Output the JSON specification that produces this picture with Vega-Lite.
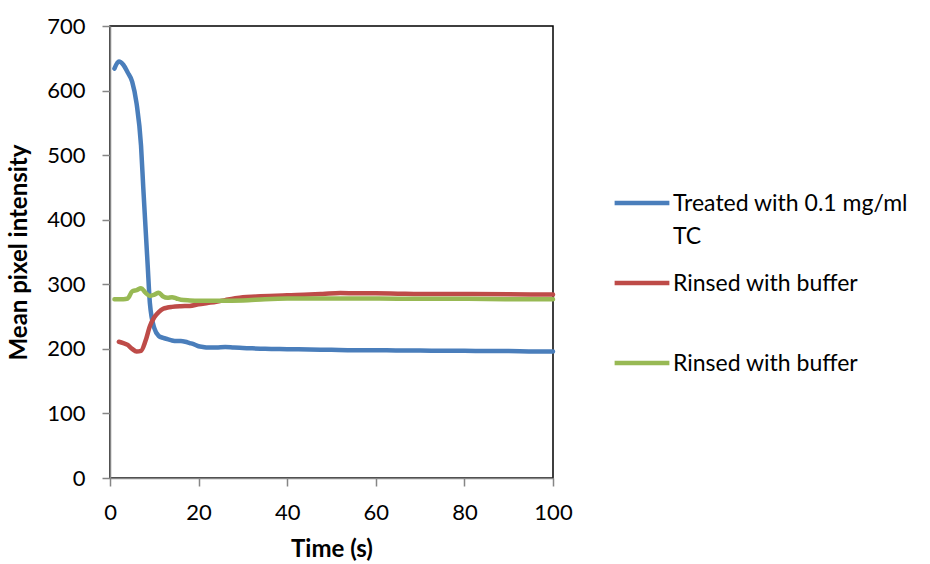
{
  "$schema": "https://vega.github.io/schema/vega-lite/v6.json",
  "width": 443,
  "height": 452,
  "autosize": {"type": "none"},
  "padding": {"left": 110, "top": 26, "right": 377, "bottom": 86},
  "background": "white",
  "config": {
    "view": {"stroke": "#000", "strokeWidth": 1.5},
    "font": "Lato",
    "axis": {
      "grid": false,
      "domainColor": "#868686",
      "domainWidth": 1.5,
      "tickColor": "#868686",
      "tickWidth": 1.5,
      "tickSize": 8,
      "labelFont": "Lato",
      "labelFontSize": 22,
      "labelColor": "#000",
      "titleFont": "Lato",
      "titleFontSize": 24,
      "titleFontWeight": "bold",
      "titleColor": "#000"
    }
  },
  "datasets": {
    "d": [
      {"t": 1, "v": 634, "s": "s1"}, {"t": 2, "v": 645, "s": "s1"}, {"t": 3, "v": 640, "s": "s1"}, {"t": 4, "v": 628, "s": "s1"}, {"t": 5, "v": 614, "s": "s1"}, {"t": 6, "v": 580, "s": "s1"}, {"t": 7, "v": 515, "s": "s1"}, {"t": 7.5, "v": 451, "s": "s1"}, {"t": 8, "v": 390, "s": "s1"}, {"t": 8.5, "v": 330, "s": "s1"}, {"t": 9, "v": 271, "s": "s1"}, {"t": 10, "v": 232, "s": "s1"}, {"t": 11, "v": 220, "s": "s1"}, {"t": 12, "v": 217, "s": "s1"}, {"t": 13, "v": 215, "s": "s1"}, {"t": 14, "v": 213, "s": "s1"}, {"t": 15, "v": 212, "s": "s1"}, {"t": 16, "v": 212, "s": "s1"}, {"t": 17, "v": 211, "s": "s1"}, {"t": 18, "v": 209, "s": "s1"}, {"t": 19, "v": 207, "s": "s1"}, {"t": 20, "v": 204, "s": "s1"}, {"t": 21, "v": 203, "s": "s1"}, {"t": 22, "v": 202, "s": "s1"}, {"t": 24, "v": 202, "s": "s1"}, {"t": 26, "v": 203, "s": "s1"}, {"t": 28, "v": 202, "s": "s1"}, {"t": 30, "v": 201.5, "s": "s1"}, {"t": 35, "v": 200, "s": "s1"}, {"t": 40, "v": 199.5, "s": "s1"}, {"t": 45, "v": 199, "s": "s1"}, {"t": 50, "v": 198.5, "s": "s1"}, {"t": 55, "v": 198, "s": "s1"}, {"t": 60, "v": 198, "s": "s1"}, {"t": 65, "v": 197.5, "s": "s1"}, {"t": 70, "v": 197.5, "s": "s1"}, {"t": 75, "v": 197, "s": "s1"}, {"t": 80, "v": 197, "s": "s1"}, {"t": 85, "v": 196.5, "s": "s1"}, {"t": 90, "v": 196.5, "s": "s1"}, {"t": 95, "v": 196, "s": "s1"}, {"t": 100, "v": 196, "s": "s1"},
      {"t": 2, "v": 211, "s": "s2"}, {"t": 3, "v": 209, "s": "s2"}, {"t": 4, "v": 206, "s": "s2"}, {"t": 5, "v": 200, "s": "s2"}, {"t": 6, "v": 196, "s": "s2"}, {"t": 7, "v": 197, "s": "s2"}, {"t": 8, "v": 212, "s": "s2"}, {"t": 9, "v": 235, "s": "s2"}, {"t": 10, "v": 249, "s": "s2"}, {"t": 11, "v": 257, "s": "s2"}, {"t": 12, "v": 262, "s": "s2"}, {"t": 13, "v": 264, "s": "s2"}, {"t": 14, "v": 265, "s": "s2"}, {"t": 16, "v": 266, "s": "s2"}, {"t": 18, "v": 266.5, "s": "s2"}, {"t": 20, "v": 269, "s": "s2"}, {"t": 22, "v": 271, "s": "s2"}, {"t": 24, "v": 273, "s": "s2"}, {"t": 26, "v": 275.5, "s": "s2"}, {"t": 28, "v": 278, "s": "s2"}, {"t": 30, "v": 280, "s": "s2"}, {"t": 33, "v": 281, "s": "s2"}, {"t": 36, "v": 282, "s": "s2"}, {"t": 40, "v": 283, "s": "s2"}, {"t": 45, "v": 284, "s": "s2"}, {"t": 48, "v": 285, "s": "s2"}, {"t": 52, "v": 286.5, "s": "s2"}, {"t": 56, "v": 286, "s": "s2"}, {"t": 60, "v": 286, "s": "s2"}, {"t": 65, "v": 285.5, "s": "s2"}, {"t": 70, "v": 285, "s": "s2"}, {"t": 80, "v": 285, "s": "s2"}, {"t": 90, "v": 284.5, "s": "s2"}, {"t": 100, "v": 284, "s": "s2"},
      {"t": 1, "v": 277, "s": "s3"}, {"t": 2, "v": 277, "s": "s3"}, {"t": 3, "v": 277, "s": "s3"}, {"t": 4, "v": 278, "s": "s3"}, {"t": 5, "v": 289, "s": "s3"}, {"t": 6, "v": 291, "s": "s3"}, {"t": 7, "v": 294, "s": "s3"}, {"t": 8, "v": 287, "s": "s3"}, {"t": 9, "v": 282, "s": "s3"}, {"t": 10, "v": 284, "s": "s3"}, {"t": 11, "v": 287, "s": "s3"}, {"t": 12, "v": 281, "s": "s3"}, {"t": 13, "v": 279, "s": "s3"}, {"t": 14, "v": 280, "s": "s3"}, {"t": 15, "v": 278, "s": "s3"}, {"t": 16, "v": 276, "s": "s3"}, {"t": 18, "v": 275, "s": "s3"}, {"t": 20, "v": 274.5, "s": "s3"}, {"t": 25, "v": 274.5, "s": "s3"}, {"t": 30, "v": 275, "s": "s3"}, {"t": 35, "v": 277, "s": "s3"}, {"t": 40, "v": 278, "s": "s3"}, {"t": 50, "v": 278, "s": "s3"}, {"t": 60, "v": 278, "s": "s3"}, {"t": 70, "v": 277.5, "s": "s3"}, {"t": 80, "v": 277.5, "s": "s3"}, {"t": 90, "v": 277, "s": "s3"}, {"t": 100, "v": 277, "s": "s3"}
    ]
  },
  "data": {"name": "d"},
  "mark": {"type": "line", "strokeWidth": 4.5, "strokeCap": "round", "strokeJoin": "round", "interpolate": "monotone"},
  "encoding": {
    "x": {
      "field": "t", "type": "quantitative",
      "scale": {"domain": [0, 100], "nice": false},
      "axis": {"values": [0, 20, 40, 60, 80, 100], "title": "Time (s)", "labelPadding": 16, "titlePadding": 14, "labelFlush": false}
    },
    "y": {
      "field": "v", "type": "quantitative",
      "scale": {"domain": [0, 700], "nice": false},
      "axis": {"values": [0, 100, 200, 300, 400, 500, 600, 700], "title": "Mean pixel intensity", "titleFontSize": 24, "labelPadding": 17, "titlePadding": 15}
    },
    "color": {
      "field": "s", "type": "nominal",
      "scale": {"domain": ["s1", "s2", "s3"], "range": ["#4A7EBB", "#BE4B48", "#98B954"]},
      "legend": {
        "title": null,
        "orient": "none",
        "legendX": 502,
        "legendY": 147,
        "symbolType": "stroke",
        "symbolSize": 3000,
        "symbolStrokeWidth": 4.5,
        "labelFont": "Lato",
        "labelFontSize": 23,
        "labelColor": "#000",
        "labelOffset": 1,
        "labelBaseline": "top",
        "labelLimit": 400,
        "rowPadding": 4,
        "padding": 0,
        "labelExpr": "datum.value == 's1' ? ['Treated with 0.1 mg/ml', 'TC'] : ['Rinsed with buffer', ' ']",
        "encode": {"labels": {"update": {"dy": {"value": -10}, "lineHeight": {"value": 33}}}}
      }
    }
  }
}
